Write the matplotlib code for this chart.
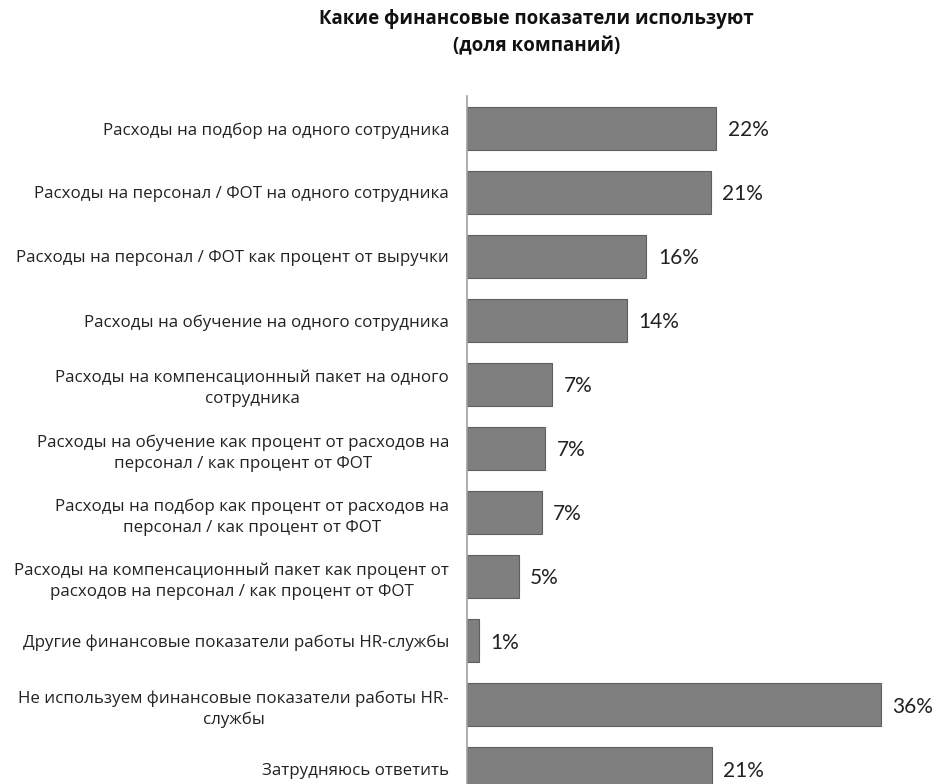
import matplotlib
matplotlib.use("Agg")
from matplotlib import pyplot as plt

categories = [
    "Расходы на подбор на одного сотрудника",
    "Расходы на персонал / ФОТ на одного сотрудника",
    "Расходы на персонал / ФОТ как процент от выручки",
    "Расходы на обучение на одного сотрудника",
    "Расходы на компенсационный пакет на одного\nсотрудника",
    "Расходы на обучение как процент от расходов на\nперсонал / как процент от ФОТ",
    "Расходы на подбор как процент от расходов на\nперсонал / как процент от ФОТ",
    "Расходы на компенсационный пакет как процент от\nрасходов на персонал / как процент от ФОТ",
    "Другие финансовые показатели работы HR-службы",
    "Не используем финансовые показатели работы HR-\nслужбы",
    "Затрудняюсь ответить",
]
values = [21.7, 21.2, 15.6, 13.9, 7.4, 6.8, 6.5, 4.5, 1.0, 36.0, 21.3]
value_labels = ["22%", "21%", "16%", "14%", "7%", "7%", "7%", "5%", "1%", "36%", "21%"]

title_lines = ["Какие финансовые показатели используют", "(доля компаний)"]

plt.rcParams["font.family"] = ["Open Sans", "DejaVu Sans"]

fig = plt.figure(figsize=(9.36, 7.84), dpi=100)
ax = fig.add_axes([0.499, 0.0, 0.491, 0.877])

y = list(range(len(categories)))
ax.barh(y, values, height=0.67, color="#7f7f7f", edgecolor="#5f5f5f", linewidth=0.8)

for yi, v, lab in zip(y, values, value_labels):
    ax.text(v + 1.0, yi + 0.03, lab, va="center", ha="left", fontsize=15,
            color="#222222", family=["Lato", "DejaVu Sans"])

ax.set_xlim(0, 40)
ax.set_ylim(10.24, -0.5)
ax.set_yticks(y)
ax.set_yticklabels(categories, fontsize=12.2, color="#222222", multialignment="center",
                   linespacing=1.4)
ax.tick_params(axis="y", length=0, pad=13)
ax.set_xticks([])

for s in ["top", "right", "bottom"]:
    ax.spines[s].set_visible(False)
ax.spines["left"].set_color("#a0a0a0")
ax.spines["left"].set_linewidth(1.2)

# заголовок по центру над графиком (смещён вправо, как в оригинале)
fig.text(0.573, 1 - 19 / 784, title_lines[0], ha="center", va="center", fontsize=13.5,
         fontweight="bold", color="#111111")
fig.text(0.573, 1 - 46 / 784, title_lines[1], ha="center", va="center", fontsize=13.5,
         fontweight="bold", color="#111111")

fig.savefig("out.png", dpi=100)
